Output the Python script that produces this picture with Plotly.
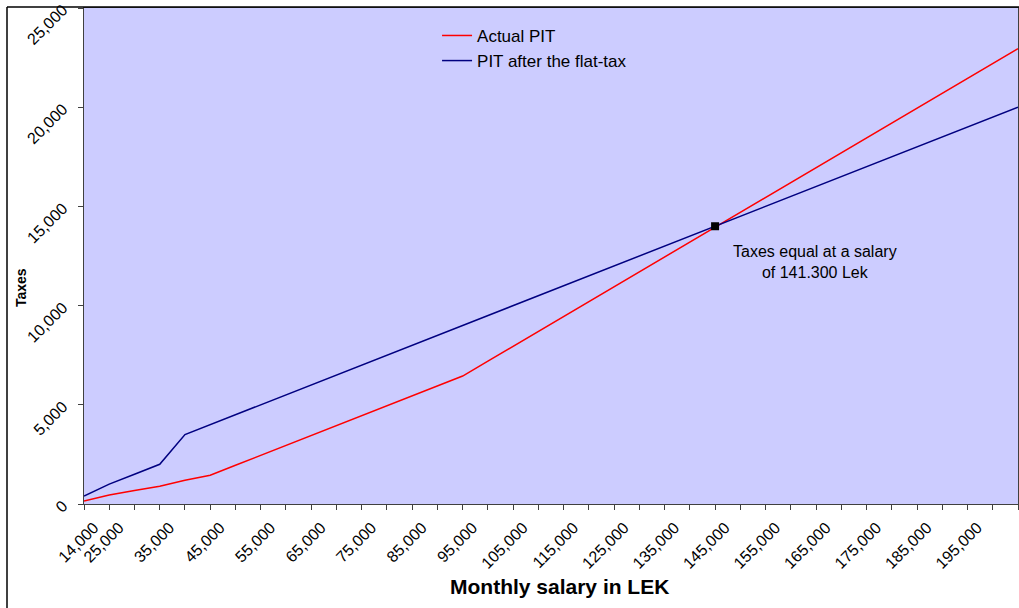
import plotly.graph_objects as go

# Monthly salary categories (LEK)
salaries = [14000] + list(range(25000, 205001, 5000))
salary_labels = [f"{s:,}" for s in salaries]

# Personal income tax under the current schedule
actual_pit = [150, 450, 680, 900, 1200, 1450,
              1950, 2450, 2950, 3450, 3950, 4450, 4950, 5450, 5950, 6450,
              7200, 7950, 8700, 9450, 10200, 10950, 11700, 12450, 13200, 13950,
              14700, 15450, 16200, 16950, 17700, 18450, 19200, 19950, 20700, 21450, 22200, 22950]

# Personal income tax after the flat tax
flat_pit = [400, 1000, 1500, 2000, 3500, 4000,
            4500, 5000, 5500, 6000, 6500, 7000, 7500, 8000, 8500, 9000,
            9500, 10000, 10500, 11000, 11500, 12000, 12500, 13000, 13500, 14000,
            14500, 15000, 15500, 16000, 16500, 17000, 17500, 18000, 18500, 19000, 19500, 20000]

# Break-even point
equal_label = "145,000"
equal_value = 14000

shown_labels = {"14,000"} | {f"{v:,}" for v in range(25000, 200000, 10000)}
tick_text = [lab if lab in shown_labels else "" for lab in salary_labels]

y_ticks = [0, 5000, 10000, 15000, 20000, 25000]
y_text = [f"{v:,}" for v in y_ticks]

FONT = "Liberation Sans, Arial, sans-serif"

fig = go.Figure()
fig.add_trace(go.Scatter(x=salary_labels, y=actual_pit, mode="lines", name="Actual PIT",
                         line=dict(color="#FF0000", width=1.5)))
fig.add_trace(go.Scatter(x=salary_labels, y=flat_pit, mode="lines", name="PIT after the flat-tax",
                         line=dict(color="#000080", width=1.5)))
fig.add_trace(go.Scatter(x=[equal_label], y=[equal_value], mode="markers", showlegend=False,
                         marker=dict(symbol="square", size=8, color="#000000")))

fig.update_layout(
    width=1019, height=608,
    margin=dict(l=84, r=1, t=8, b=104),
    paper_bgcolor="#FFFFFF",
    plot_bgcolor="#CCCCFF",
    font=dict(family=FONT, color="#000000", size=14),
    showlegend=True,
    legend=dict(x=0.378, y=0.98, xanchor="left", yanchor="top",
                bgcolor="rgba(0,0,0,0)", font=dict(size=17, family=FONT),
                itemwidth=30, tracegroupgap=0),
    xaxis=dict(type="category", categoryorder="array", categoryarray=salary_labels,
               range=[0, len(salary_labels) - 1],
               tickmode="array", tickvals=salary_labels, ticktext=tick_text,
               tickangle=-45, ticks="outside", ticklen=5, tickcolor="#404040",
               ticklabelshift=10, ticklabelstandoff=2,
               showline=True, linecolor="#404040", linewidth=1, mirror=True,
               showgrid=False, zeroline=False, tickfont=dict(size=16, family=FONT)),
    yaxis=dict(range=[0, 25000], tickmode="array", tickvals=y_ticks, ticktext=y_text,
               tickangle=-45, ticks="outside", ticklen=5, tickcolor="#404040",
               ticklabelstandoff=12,
               showline=True, linecolor="#404040", linewidth=1, mirror=True,
               showgrid=False, zeroline=False, tickfont=dict(size=16, family=FONT)),
    annotations=[
        dict(text="Taxes equal at a salary<br>of 141.300 Lek", xref="paper", yref="paper",
             x=(815 - 84) / 934, y=1 - (262 - 8) / 496, xanchor="center", yanchor="middle",
             showarrow=False, font=dict(size=16, family=FONT), align="center"),
        dict(text="<b>Taxes</b>", xref="paper", yref="paper",
             x=(21 - 84) / 934, y=1 - (288 - 8) / 496, xanchor="center", yanchor="middle",
             textangle=-90, showarrow=False, font=dict(size=14, family=FONT)),
        dict(text="<b>Monthly salary in LEK</b>", xref="paper", yref="paper",
             x=(559 - 84) / 934, y=-(586 - 504) / 496, xanchor="center", yanchor="middle",
             showarrow=False, font=dict(size=21, family=FONT)),
    ],
    shapes=[
        dict(type="line", xref="paper", yref="paper",
             x0=(7 - 84) / 934, x1=(7 - 84) / 934, y0=1 + 1 / 496, y1=-0.3,
             line=dict(color="#000000", width=1.5)),
        dict(type="line", xref="paper", yref="paper",
             x0=(7 - 84) / 934, x1=1.01, y0=1 + 1 / 496, y1=1 + 1 / 496,
             line=dict(color="#000000", width=1.5)),
    ],
)

fig.write_html("out.html")
